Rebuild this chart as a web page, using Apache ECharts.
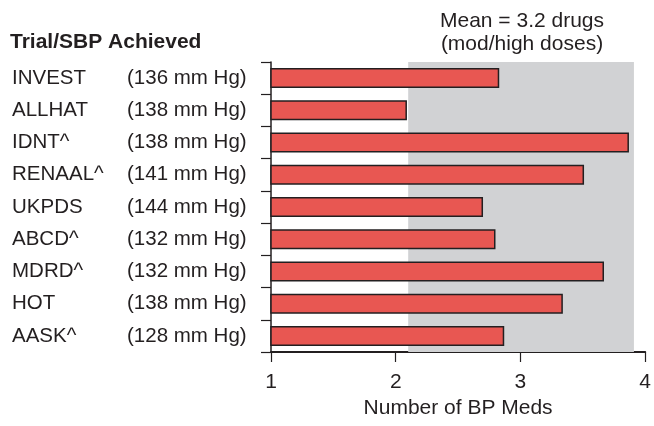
<!DOCTYPE html>
<html>
<head>
<meta charset="utf-8">
<style>
  html, body { margin: 0; padding: 0; background: #ffffff; }
  #chart { width: 654px; height: 426px; }
</style>
<script src="https://cdn.jsdelivr.net/npm/echarts@6/dist/echarts.min.js"></script>
</head>
<body>
<div id="chart"></div>
<script>
// Trials and the systolic pressure each one achieved
const trials = ['INVEST', 'ALLHAT', 'IDNT^', 'RENAAL^', 'UKPDS', 'ABCD^', 'MDRD^', 'HOT', 'AASK^'];
const sbpAchieved = ['136', '138', '138', '141', '144', '132', '132', '138', '128'];
// Number of antihypertensive medications used per trial
const bpMeds = [2.83, 2.09, 3.87, 3.51, 2.70, 2.80, 3.67, 3.34, 2.87];
// Shaded band: mean-dose range of drugs
const shadeRange = [2.1, 3.91];
const xTicks = [1, 2, 3, 4];

const FONT = '"Liberation Sans", Arial, Helvetica, sans-serif';
const TEXT = '#231f20';

const chart = echarts.init(document.getElementById('chart'), null, { renderer: 'canvas' });

chart.setOption({
  animation: false,
  backgroundColor: '#ffffff',
  textStyle: { fontFamily: FONT, color: TEXT },
  grid: { left: 271, right: 6, top: 62, bottom: 74, containLabel: false },
  xAxis: {
    type: 'value',
    min: xTicks[0],
    max: xTicks[xTicks.length - 1],
    interval: 1,
    name: 'Number of BP Meds',
    nameLocation: 'middle',
    nameGap: 46,
    nameTextStyle: { fontFamily: FONT, fontSize: 21, color: TEXT },
    axisLine: { show: true, lineStyle: { color: TEXT, width: 2 } },
    axisTick: { show: true, inside: false, length: 10, lineStyle: { color: TEXT, width: 1.2 } },
    axisLabel: { margin: 20, fontFamily: FONT, fontSize: 21, color: TEXT },
    splitLine: { show: false }
  },
  yAxis: {
    type: 'category',
    inverse: true,
    data: trials,
    axisLine: { show: true, lineStyle: { color: TEXT, width: 1.5 } },
    axisTick: { show: true, inside: false, length: 10, lineStyle: { color: TEXT, width: 1.2 } },
    axisLabel: {
      margin: 259,
      align: 'left',
      formatter: function (name, idx) {
        return '{n|' + name + '}{p|(' + sbpAchieved[idx] + ' mm Hg)}';
      },
      rich: {
        n: { width: 115, fontFamily: FONT, fontSize: 20.5, color: TEXT, align: 'left' },
        p: { fontFamily: FONT, fontSize: 20.5, color: TEXT }
      }
    },
    splitLine: { show: false }
  },
  series: [{
    type: 'bar',
    data: bpMeds,
    barWidth: 20,
    itemStyle: { color: '#e85752', borderColor: TEXT, borderWidth: 1.5 },
    markArea: {
      silent: true,
      itemStyle: { color: '#d1d2d4' },
      data: [[{ xAxis: shadeRange[0] }, { xAxis: shadeRange[1] }]]
    },
    z: 3
  }],
  graphic: [
    {
      type: 'text', left: 10, top: 32,
      style: { text: 'Trial/SBP Achieved', font: 'bold 21px ' + FONT, fill: TEXT }
    },
    {
      type: 'text', x: 522, y: 21,
      style: { text: 'Mean = 3.2 drugs', font: '21px ' + FONT, fill: TEXT, textAlign: 'center', textVerticalAlign: 'middle' }
    },
    {
      type: 'text', x: 522, y: 44,
      style: { text: '(mod/high doses)', font: '21px ' + FONT, fill: TEXT, textAlign: 'center', textVerticalAlign: 'middle' }
    }
  ]
});
</script>
</body>
</html>
